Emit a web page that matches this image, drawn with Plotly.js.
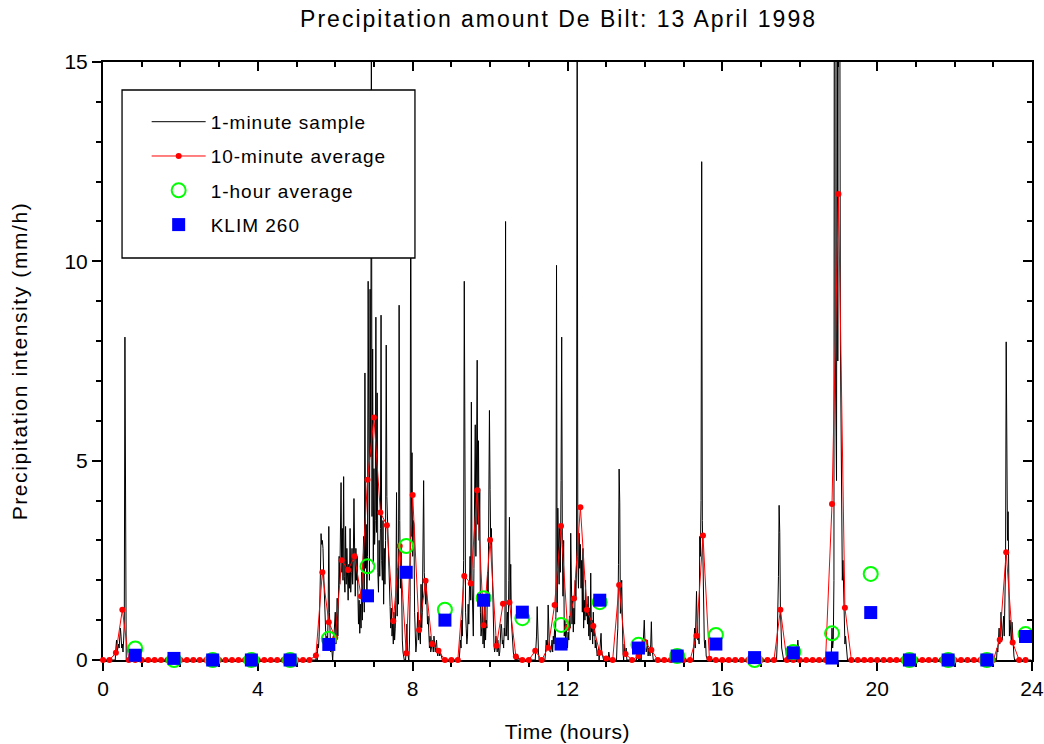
<!DOCTYPE html>
<html>
<head>
<meta charset="utf-8">
<script src="https://cdn.plot.ly/plotly-3.0.1.min.js"></script>
<style>
html,body{margin:0;padding:0;background:#fff;}
#chart{width:1044px;height:744px;}
.gtitle{letter-spacing:2px;}
.legendtext{letter-spacing:1px;}
.ytitle{letter-spacing:1.6px;}
.xtitle{letter-spacing:0.6px;}
#chart .legend .scrollbox{clip-path:none !important;}
</style>
</head>
<body>
<div id="chart"></div>
<script>
// ---------- DATA ----------
// 1-minute samples: rain episodes, each starting at the given minute of the day (mm/h)
const episodeStartMinutes = [15, 330, 550, 670, 916, 1045, 1076, 1128, 1385];
const episodeEarlyMorning = [0,0,0,0,0,0.3,0.5,0.2,0.4,0.4, 0.3,0.5,0.8,0.6,0.3,0.4,0.2,0.5,0.9,8.1, 0.3,0];
const episodeMorning = [
  0,0.2,0,0.4,0.3,0.6,1.2,2.2,3.17,2.9,
  3.0,2.8,2.2,1.6,0.9,0.5,0.3,0.6,0.4,1.1,
  3.35,1.2,0.6,0.2,0.4,0.1,0,0.3,0.6,0.9,
  1.2,0.4,0.8,1.55,0.6,1.8,2.6,1.9,3.0,4.45,
  2.2,3.3,2.0,4.6,2.1,1.7,3.35,1.9,2.8,1.6,
  1.5,2.4,1.8,3.3,1.7,2.2,2.8,1.9,2.5,4.05,
  2.3,1.6,2.8,2.0,2.6,1.2,0.9,1.5,0.67,1.4,
  0.8,2.2,1.0,2.4,3.1,1.2,7.2,2.3,3.4,1.5,
  2.6,9.5,4.2,2.0,9.3,5.1,16.5,3.6,7.8,2.4,
  4.8,2.9,3.5,8.6,3.2,6.7,2.2,1.7,3.0,2.1,
  3.3,8.65,2.5,2.0,3.5,1.4,2.8,1.9,3.0,7.9,
  4.1,3.4,3.1,2.8,1.6,1.34,0.8,1.3,0.6,0.9,
  0.4,1.2,0.5,0.8,1.5,4.2,1.1,2.3,1.4,8.9,
  3.5,1.8,2.9,0.9,0.5,0.2,0,0,0,0,
  0.3,0.9,0.2,0,0,0.4,1.6,13.5,3.1,5.2,
  2.6,3.5,3.4,1.2,0.6,0.2,0.4,0.9,1.2,0.5,
  1.0,0.6,0.4,1.9,0.8,1.2,2.6,4.5,2.2,1.6,
  1.4,2.0,1.0,0.9,1.1,0.5,0.3,0.6,0.2,0.3,
  0.5,0.4,0.2,0.6,0.3,0.2,0.4,0.5,0.2,0.1,
  0.3,0.2,0.1,0.2,0.1,0,0,0,0,0
];
const episodeLateMorning = [
  0,0,0,0.2,0.5,0.3,1.0,0.6,1.8,2.5,
  9.5,2.0,1.2,0.8,0.4,0.6,1.4,0.9,1.8,2.6,
  1.5,6.47,2.0,1.1,0.6,2.3,3.5,5.9,2.6,4.8,
  7.52,3.4,5.5,3.0,4.3,1.2,0.6,0.8,1.6,0.4,
  0.9,0.3,1.4,0.5,1.0,0.8,2.2,1.5,3.5,6.26,
  4.27,2.9,3.3,2.4,1.7,0.5,0.4,0.2,0.3,0.6,
  0.4,0.2,0.5,0.3,0.1,0.2,0.6,0.9,0.8,0.4,
  0.5,0.3,0.8,0.6,11.0,0.6,0.9,1.2,0.5,2.0,
  3.58,1.5,2.4,1.0,0.7,0.3,0.2,0.1,0.1,0,
  0.1,0,0,0.1,0,0,0,0,0,0
];
const episodeNoon = [
  0,0.3,0.6,1.34,0.4,0.2,0,0,0,0,
  0,0,0,0,0,0,0.2,0.5,0.3,0.3,
  1.38,0.4,0.3,0.2,0.2,0.3,0.5,0.2,0.6,0.4,
  0.8,0.4,1.1,9.9,1.2,3.81,2.7,1.9,3.4,2.2,
  4.5,8.1,2.9,1.6,3.0,0.6,1.0,0.5,0.9,0.4,
  0.3,0.7,0.5,1.1,0.8,3.18,1.2,0.9,1.6,0.7,
  1.3,0.9,2.0,1.5,2.4,16.5,2.6,1.8,3.18,2.3,
  2.9,1.8,2.5,1.2,2.8,0.8,1.5,1.0,2.0,1.1,
  1.4,0.9,1.6,0.6,1.3,0.5,2.18,0.7,1.0,0.4,
  1.2,0.6,0.8,0.3,0.5,0.1,0.1,0.2,0.3,0,
  0.2,0.3,0.67,0.2,0.1,0.1,0,0.1,0,0,
  0,0,0.1,0,0.2,0,0,0,0,0,
  0,0,0,0,0,0,0,0.5,0.8,2.4,
  4.79,3.94,1.17,1.6,2.0,0.3,0.2,0,0.4,0.1,
  0.2,0.3,0,0,0,0,0,0,0,0,
  0,0,0,0,0,0,0,0,0.4,0,
  0,0.3,0,0.3,0,0.2,0.5,0.3,0.6,1.0,
  0.5,0.4,0.2,0.3,0.5,0.1,0.3,0.2,0.1,0.4,
  0.96,0.3,0.1,0,0
];
const episodeAfternoon = [0.4,0.8,0.3,1.2,1.72,0.9,0.5,0.6,0.4,3.1,2.6,4.0,12.5,3.5,2.1,1.0,0.5,0.3,0.5,0.1];
const episodeEvening = [0.4,1.2,2.1,3.88,3.2,1.3,0.5,0.3,0.2];
const episodeEveningDrizzle = [0.2,0.5,0.3];
const episodeShower = [0,0.2,0.8,0.3,0.5,2.0,34,8,5,4.5,20,7.5,24,15,18,8,5,3.67,2.0,2.5,1.5,0.8,0.4,0.6,0.4];
const episodeNight = [0,0.3,0.2,0.5,0.8,0.4,0.6,1.2,0.6,0.5,0.8,1.1,0.6,1.5,2.4,7.98,4.0,3.0,3.72,1.8,0.6,1.0,0.5,0.4,0.95,0.6,0.3,0.1];
const sampleEpisodes = [episodeEarlyMorning, episodeMorning, episodeLateMorning, episodeNoon,
  episodeAfternoon, episodeEvening, episodeEveningDrizzle, episodeShower, episodeNight];

// 10-minute averages, one per 10 minutes from 00:00 (mm/h), 6 per hour
const tenMinuteAverage = [
  0,0,0.18,1.26,0,0,          // 0 h
  0,0,0,0,0,0,                // 1 h
  0,0,0,0,0,0,                // 2 h
  0,0,0,0,0,0,                // 3 h
  0,0,0,0,0,0,                // 4 h
  0,0,0,0.11,2.20,0.95,       // 5 h
  0.56,2.50,2.26,2.60,1.6,4.52, // 6 h
  6.08,3.70,3.38,0.98,2.86,0.17, // 7 h
  4.14,0.75,1.99,0.40,0.23,0, // 8 h
  0,0,2.11,1.92,4.26,0.87,    // 9 h
  3.01,0.36,1.41,1.44,0.09,0, // 10 h
  0,0.23,0,0.31,1.38,3.36,    // 11 h
  0.81,1.54,3.83,1.26,0.85,0.18, // 12 h
  0.04,0,1.88,0.15,0,0.10,    // 13 h
  0.45,0.25,0,0,0,0,          // 14 h
  0,0,0.61,3.12,0.03,0,       // 15 h
  0,0,0,0,0,0,                // 16 h
  0,0,0,1.26,0,0,             // 17 h
  0,0,0,0,0,3.91,             // 18 h
  11.69,1.31,0,0,0,0,         // 19 h
  0,0,0,0,0,0,                // 20 h
  0,0,0,0,0,0,                // 21 h
  0,0,0,0,0,0,                // 22 h
  0,0.51,2.70,0.44,0,0        // 23 h
];
// hourly values, plotted at 50 minutes past each hour
const hourIndex = [0,1,2,3,4,5,6,7,8,9,10,11,12,13,14,15,16,17,18,19,20,21,22,23];
const oneHourAverage = [0.29,0,0,0,0,0.53,2.35,2.86,1.26,1.55,1.05,0.88,1.45,0.38,0.1,0.63,0,0.2,0.67,2.16,0,0,0,0.65];
const klim260 = [0.12,0.04,0,0,0,0.39,1.61,2.20,1.0,1.5,1.2,0.40,1.5,0.30,0.1,0.4,0.06,0.18,0.05,1.19,0,0,0,0.59];

// ---------- build series ----------
const minuteValues = new Array(1440).fill(0);
sampleEpisodes.forEach((ep, k) => {
  ep.forEach((v, j) => { minuteValues[episodeStartMinutes[k] + j] = v; });
});
const minuteHours = minuteValues.map((_, m) => m / 60);
const tenMinuteHours = tenMinuteAverage.map((_, i) => i / 6);
const hourHours = hourIndex.map(h => h + 50 / 60);

const traces = [
  {type:'scatter', mode:'lines', name:'1-minute sample', legendgroup:'a',
   x:minuteHours, y:minuteValues, line:{color:'#000000', width:1}, hoverinfo:'skip'},
  {type:'scatter', mode:'lines+markers', name:'10-minute average', legendgroup:'b',
   x:tenMinuteHours, y:tenMinuteAverage, cliponaxis:false,
   line:{color:'#ff0000', width:1}, marker:{color:'#ff0000', size:6}},
  {type:'scatter', mode:'markers', name:'1-hour average', legendgroup:'c',
   x:hourHours, y:oneHourAverage, cliponaxis:false,
   marker:{symbol:'circle-open', size:14, color:'#00ff00', line:{width:2}}},
  {type:'scatter', mode:'markers', name:'KLIM 260', legendgroup:'d',
   x:hourHours, y:klim260, cliponaxis:false,
   marker:{symbol:'square', size:13, color:'#0000ff'}},
  {type:'scatter', mode:'markers', x:[], y:[], xaxis:'x2', yaxis:'y2', showlegend:false, hoverinfo:'skip'}
];

const axisCommon = {showgrid:false, zeroline:false, showline:true, linewidth:2, linecolor:'#000',
  tickcolor:'#000', tickwidth:2, fixedrange:true};

const layout = {
  width:1044, height:744,
  margin:{l:103, r:12, t:62, b:84},
  paper_bgcolor:'#ffffff', plot_bgcolor:'#ffffff',
  font:{family:'"Liberation Sans", Arial, sans-serif', color:'#000', size:20},
  title:{text:'Precipitation amount De Bilt: 13 April 1998', font:{size:23, color:'#000'},
         xref:'container', x:0.535, xanchor:'center', yref:'container', y:0.975, yanchor:'middle'},
  xaxis:Object.assign({}, axisCommon, {range:[0,24], tick0:0, dtick:4, ticks:'outside', ticklen:9,
         tickfont:{size:21}, layer:'below traces',
         minor:{dtick:1, ticks:'outside', ticklen:5, tickwidth:2, tickcolor:'#000', showgrid:false},
         title:{text:'Time (hours)', font:{size:21}, standoff:25}}),
  yaxis:Object.assign({}, axisCommon, {range:[0,15], tick0:0, dtick:5, ticks:'outside', ticklen:9,
         tickfont:{size:21}, layer:'below traces',
         minor:{dtick:1, ticks:'outside', ticklen:5, tickwidth:2, tickcolor:'#000', showgrid:false},
         title:{text:'Precipitation intensity (mm/h)', font:{size:21}, standoff:31}}),
  xaxis2:Object.assign({}, axisCommon, {overlaying:'x', anchor:'y', side:'top', range:[0,24], tick0:0, dtick:4,
         ticks:'inside', ticklen:9, showticklabels:false,
         minor:{dtick:1, ticks:'inside', ticklen:5, tickwidth:2, tickcolor:'#000', showgrid:false}}),
  yaxis2:Object.assign({}, axisCommon, {overlaying:'y', anchor:'x', side:'right', range:[0,15], tick0:0, dtick:5,
         ticks:'inside', ticklen:9, showticklabels:false,
         minor:{dtick:1, ticks:'inside', ticklen:5, tickwidth:2, tickcolor:'#000', showgrid:false}}),
  shapes:[{type:'rect', xref:'paper', yref:'paper', x0:0.0205, x1:0.3358, y0:0.6722, y1:0.9532,
           fillcolor:'#ffffff', line:{color:'#000', width:1.3}, layer:'above'}],
  showlegend:true,
  legend:{x:0.047, y:0.9317, xanchor:'left', yanchor:'top', bgcolor:'rgba(0,0,0,0)', borderwidth:0,
          font:{size:19}, itemwidth:54, traceorder:'grouped', tracegroupgap:6.6}
};

Plotly.newPlot('chart', traces, layout, {displayModeBar:false, staticPlot:true});
</script>
</body>
</html>
